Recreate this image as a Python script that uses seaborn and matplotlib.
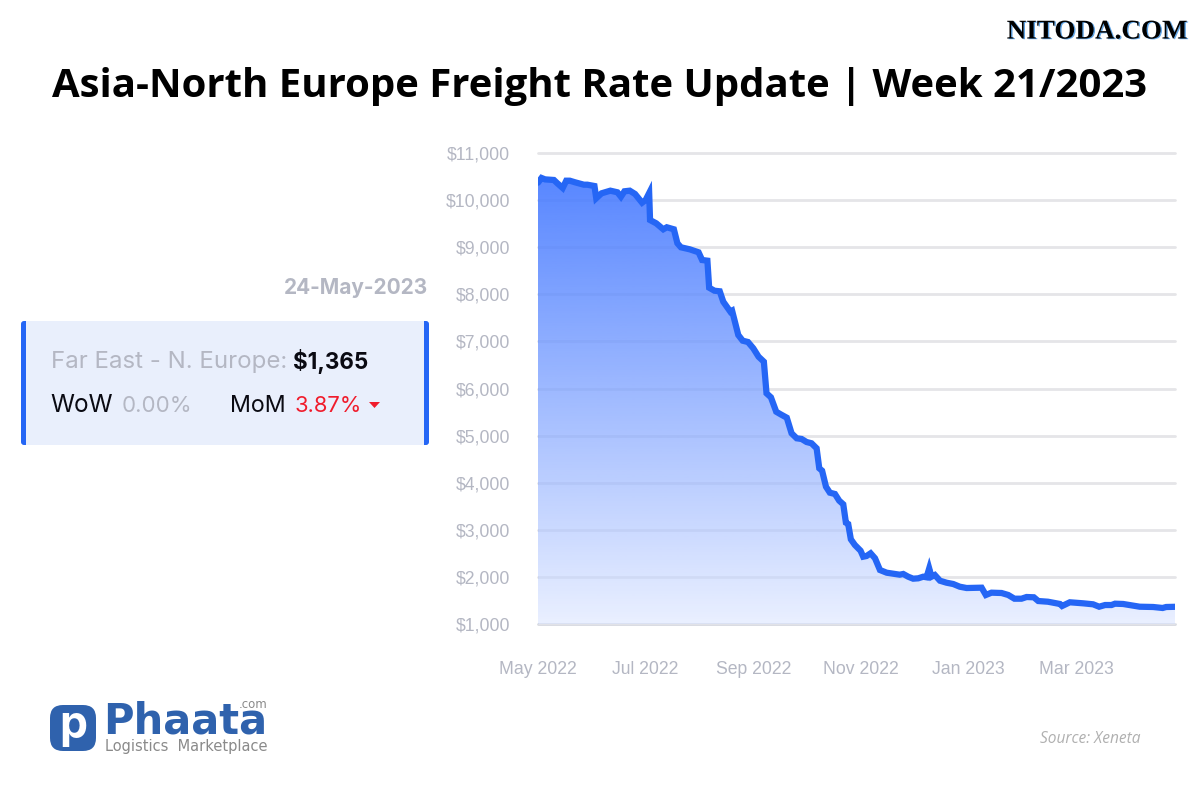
import numpy as np
import pandas as pd
import seaborn as sns
import matplotlib.pyplot as plt
from matplotlib.patches import FancyBboxPatch, Polygon, Rectangle
import matplotlib.patheffects as pe

# days since 1 May 2022 and rate in USD
days = [0, 2, 4, 9, 11, 14, 16, 18, 21, 26, 28, 32, 33, 36, 41, 45, 47, 49, 52, 55, 59, 61, 63, 63.5,
        67, 71, 73, 77, 79, 81, 86, 91, 93, 96, 97, 100, 103, 105, 109, 110, 113.5, 116, 119, 122, 125, 128,
        129.5, 132, 135, 137.5, 141, 143.7, 146.6, 149.4, 152.2, 155, 157.9, 159.4, 161, 163.2, 165.4,
        168.3, 170.7, 173, 174.5, 175.8, 177.3, 179.6, 182.8, 184.3, 186.2, 188.5, 191, 193.8, 197.6,
        202.3, 205, 207, 209.8, 212.6, 215.5, 218.3, 220.2, 221.7, 223, 224.9, 227.8, 231.5, 235.3, 239,
        242.9, 251.4, 253.8, 257, 262.7, 266.5, 270, 274, 276.9, 281, 283.5, 289, 295.8, 297, 301.4, 309,
        314.6, 318, 321.4, 325, 327, 331.6, 341, 348.6, 354, 356, 361]
rates = [10370, 10470, 10440, 10427, 10356, 10257, 10412, 10412, 10378, 10327, 10327, 10299, 10040, 10144,
         10200, 10166, 10072, 10187, 10200, 10130, 9945, 10002, 10150, 9577,
         9507, 9380, 9423, 9380, 9083, 8998, 8955, 8892, 8728, 8714, 8140, 8076, 8064, 7843, 7631, 7652,
         7136, 7015, 6987, 6854, 6675, 6569,
         5898, 5813, 5507, 5452, 5380, 5049, 4943, 4928, 4864, 4837, 4730, 4306, 4255, 3915, 3788,
         3760, 3618, 3541, 3151, 3123, 2798, 2677, 2556, 2429, 2444, 2501, 2395, 2146, 2089,
         2062, 2047, 2062, 2004, 1962, 1970, 2004, 1992, 2180, 2004, 2040, 1919, 1877, 1849, 1792,
         1764, 1771, 1616, 1665, 1658, 1616, 1537, 1537, 1573, 1567, 1488, 1473, 1425, 1382, 1461, 1439,
         1418, 1367, 1403, 1403, 1431, 1425, 1367, 1361, 1340, 1361, 1365]

y_ticks = [1000, 2000, 3000, 4000, 5000, 6000, 7000, 8000, 9000, 10000, 11000]
x_ticks = [0, 61, 122, 183, 244, 305]
x_labels = ['May 2022', 'Jul 2022', 'Sep 2022', 'Nov 2022', 'Jan 2023', 'Mar 2023']

title = 'Asia-North Europe Freight Rate Update | Week 21/2023'
BLUE = '#2566f5'
GREY = '#b4b7c3'

sns.set_theme(style='white')
plt.rcParams['font.family'] = ['Liberation Sans', 'DejaVu Sans']

df = pd.DataFrame({'day': days, 'rate': rates})

fig = plt.figure(figsize=(12, 8), dpi=100, facecolor='white')
ax = fig.add_axes([538 / 1200, 1 - 624 / 800, (1175 - 538) / 1200, (624 - 153) / 800])

# white veil then gradient, so the grid only shows faintly under the area
ax.fill_between(df['day'], df['rate'], 1000, color='white', alpha=0.55, linewidth=0, zorder=1.5)
grad = np.zeros((256, 1, 4))
grad[..., 0] = 40 / 255
grad[..., 1] = 100 / 255
grad[..., 2] = 1.0
grad[:, 0, 3] = np.linspace(0.78, 0.10, 256)
area = ax.fill_between(df['day'], df['rate'], 1000, color='none')
im = ax.imshow(grad, extent=(0, 361, 1000, 10500), origin='upper', aspect='auto', zorder=2)
clip = area.get_paths()[0]
im.set_clip_path(clip, transform=ax.transData)

sns.lineplot(data=df, x='day', y='rate', ax=ax, color=BLUE, linewidth=4.5, zorder=3,
             solid_joinstyle='miter', errorbar=None, estimator=None)

ax.set_xlim(0, 361)
ax.set_ylim(1000, 11000)
ax.set_yticks(y_ticks)
ax.set_yticklabels([f'${v:,}' for v in y_ticks])
ax.set_xticks(x_ticks)
ax.set_xticklabels(x_labels)
ax.set_xlabel('')
ax.set_ylabel('')
ax.tick_params(axis='y', length=0, pad=20, labelsize=12.7, labelcolor=GREY)
ax.tick_params(axis='x', length=0, pad=27, labelsize=12.7, labelcolor=GREY)
ax.set_axisbelow(True)
ax.grid(axis='y', color='#e5e5e8', linewidth=2, clip_on=False)
ax.grid(axis='x', visible=False)
sns.despine(ax=ax, left=True, bottom=True)
ax.yaxis.get_gridlines()[0].set_color('#d6d8e0')

# overlay in pixel coordinates for title, card and logo
ov = fig.add_axes([0, 0, 1, 1], zorder=5)
ov.set_xlim(0, 1200)
ov.set_ylim(800, 0)
ov.axis('off')
ov.patch.set_alpha(0)

ov.text(599.5, 87, title, ha='center', va='center', fontsize=28.9, fontweight='bold',
        family='Open Sans', color='black')

wm = ov.text(1097.5, 32, 'NITODA.COM', ha='center', va='center', fontsize=19.5, fontweight='bold',
             family='Liberation Serif', color='black')
wm.set_path_effects([pe.SimplePatchShadow(offset=(1, -0.5), shadow_rgbFace='#3a8fe0', alpha=0.8), pe.Normal()])

ov.text(428, 288, '24-May-2023', ha='right', va='center', fontsize=15, fontweight='bold',
        family='Inter', color=GREY)

ov.add_patch(FancyBboxPatch((21, 321), 408, 124, boxstyle='round,pad=0,rounding_size=3',
                            fc=BLUE, ec='none'))
ov.add_patch(Rectangle((26, 321), 398, 124, fc='#e9effc', ec='none'))

ov.text(51, 362, 'Far East - N. Europe:', ha='left', va='center', fontsize=17.3, family='Inter', color=GREY)
ov.text(293, 362, '$1,365', ha='left', va='center', fontsize=16.2, fontweight='bold', family='Inter', color='#0a0a12')
ov.text(50, 406, 'WoW', ha='left', va='center', fontsize=17.5, family='Inter', color='#0a0a12')
ov.text(122, 406, '0.00%', ha='left', va='center', fontsize=16, family='Inter', color=GREY)
ov.text(230, 406, 'MoM', ha='left', va='center', fontsize=16.7, family='Inter', color='#0a0a12')
ov.text(295, 406, '3.87%', ha='left', va='center', fontsize=15.8, family='Inter', color='#f01c2c')
ov.add_patch(Polygon([(369, 402), (380, 402), (374.5, 408)], fc='#f01c2c', ec='none'))

# logo
ov.add_patch(FancyBboxPatch((50, 705), 46, 46, boxstyle='round,pad=0,rounding_size=13',
                            fc='#2f62ad', ec='none'))
ov.text(73, 726, 'p', ha='center', va='center', fontsize=32, fontweight='bold', family='Inter', color='white')
ov.text(103, 721, 'Phaata', ha='left', va='center', fontsize=30, family='DejaVu Sans', fontweight='bold', color='#2f62ad')
ov.text(267, 705, '.com', ha='right', va='center', fontsize=8.5, family='DejaVu Sans', color='#8a8a8a')
ov.text(105, 746, 'Logistics  Marketplace', ha='left', va='center', fontsize=10.5, family='DejaVu Sans', color='#8a8a8a')

ov.text(1141, 739, 'Source: Xeneta', ha='right', va='center', fontsize=11.2, style='italic',
        family='Open Sans', color='#b0b0b0')

fig.savefig('out.png', dpi=100)
